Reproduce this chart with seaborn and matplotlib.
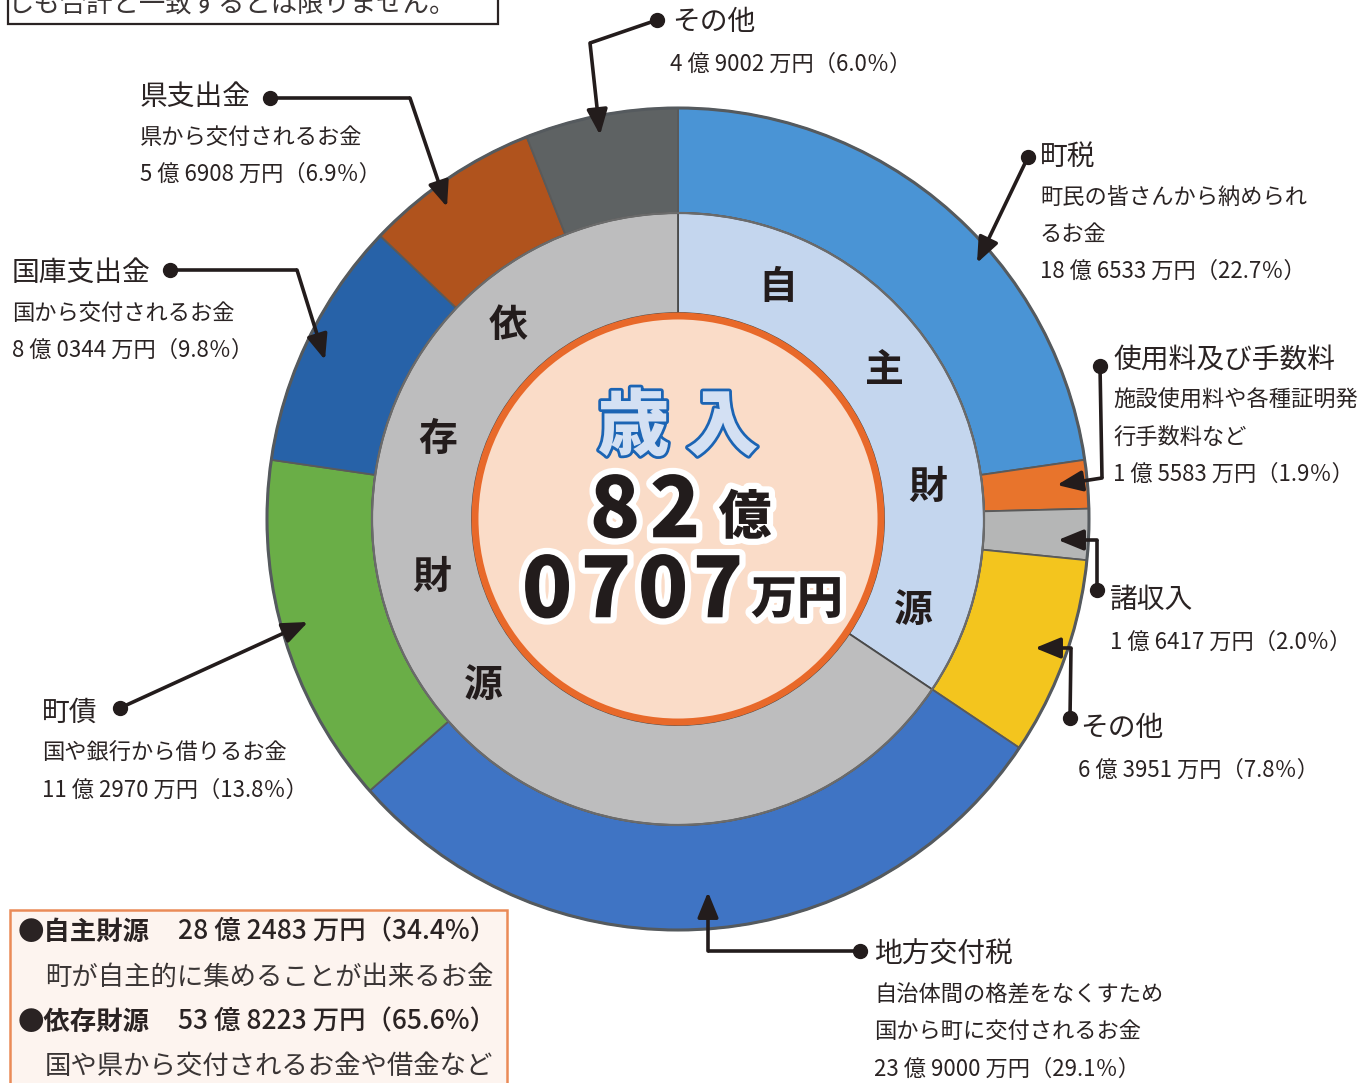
import matplotlib
matplotlib.use("Agg")
import matplotlib.pyplot as plt
import matplotlib.patheffects as pe
from matplotlib.patches import Circle, Rectangle
import seaborn as sns

# ---------------- data ----------------
outer_categories = ["町税", "使用料及び手数料", "諸収入", "その他",
                    "地方交付税", "町債", "国庫支出金", "県支出金", "その他"]
outer_values = [22.7, 1.9, 2.0, 7.8, 29.1, 13.8, 9.8, 6.9, 6.0]
outer_amounts = ["18 億 6533 万円（22.7％）", "1 億 5583 万円（1.9％）",
                 "1 億 6417 万円（2.0％）", "6 億 3951 万円（7.8％）",
                 "23 億 9000 万円（29.1％）", "11 億 2970 万円（13.8％）",
                 "8 億 0344 万円（9.8％）", "5 億 6908 万円（6.9％）",
                 "4 億 9002 万円（6.0％）"]
outer_descriptions = [["町民の皆さんから納められ", "るお金"],
                      ["施設使用料や各種証明発", "行手数料など"],
                      [], [],
                      ["自治体間の格差をなくすため", "国から町に交付されるお金"],
                      ["国や銀行から借りるお金"],
                      ["国から交付されるお金"],
                      ["県から交付されるお金"],
                      []]
outer_colors = ["#4a94d5", "#e8742c", "#b5b6b6", "#f3c51e",
                "#3f74c4", "#6aae47", "#2762a8", "#b0531d", "#5e6263"]

inner_categories = ["自主財源", "依存財源"]
inner_values = [34.4, 65.6]
inner_amounts = ["28 億 2483 万円（34.4%）", "53 億 8223 万円（65.6%）"]
inner_descriptions = ["町が自主的に集めることが出来るお金",
                      "国や県から交付されるお金や借金など"]
inner_colors = ["#c4d6ee", "#bdbdbe"]

total_title = "歳 入"
total_oku = "82"
total_man = "0707"
note_text = "しも合計と一致するとは限りません。"

# ---------------- style ----------------
sns.set_theme(style="white")
plt.rcParams["font.family"] = ["Noto Sans CJK JP", "DejaVu Sans"]

W, H = 1370, 1083
fig = plt.figure(figsize=(W / 100, H / 100), dpi=100)
ax = fig.add_axes([0, 0, 1, 1])

CX, CY = 678, 519
R_OUT, R_MID, R_IN = 411, 306, 206
TXT = "#2a2323"

# outer ring (clockwise from top; y axis is inverted later)
ax.pie(outer_values, colors=sns.color_palette(outer_colors), startangle=-90,
       counterclock=True, radius=R_OUT, center=(CX, CY),
       wedgeprops=dict(width=R_OUT - R_MID, edgecolor="#5a5a5a", linewidth=1.3))
# inner ring
ax.pie(inner_values, colors=sns.color_palette(inner_colors), startangle=-90,
       counterclock=True, radius=R_MID, center=(CX, CY),
       wedgeprops=dict(width=R_MID - R_IN, edgecolor="#4a4a4a", linewidth=1.3))
# outline rings
ax.add_patch(Circle((CX, CY), R_OUT, fill=False, ec="#555a5e", lw=2.2, zorder=3))
ax.add_patch(Circle((CX, CY), R_MID, fill=False, ec="#6b6b6b", lw=1.6, zorder=3))
# centre disc
ax.add_patch(Circle((CX, CY), R_IN - 3, fc="#fadcc8", ec="#e8692a", lw=5, zorder=4))

ax.set_xlim(0, W)
ax.set_ylim(H, 0)
ax.set_aspect("equal")
ax.axis("off")

# inner ring vertical labels
ring_chars = [("自", 778, 288), ("主", 884, 370), ("財", 928, 487), ("源", 913, 610),
              ("依", 508, 325), ("存", 438, 440), ("財", 432, 577), ("源", 483, 685)]
for ch, x, y in ring_chars:
    ax.text(x, y, ch, fontsize=28, fontweight="bold", color="#231c1c",
            ha="center", va="center", zorder=5)

# centre texts
ax.text(CX, 428, total_title, fontsize=52, fontweight="heavy", color="#d3e0f3",
        ha="center", va="center", zorder=6,
        path_effects=[pe.withStroke(linewidth=4, foreground="#1b64b4")])
white = [pe.withStroke(linewidth=9, foreground="white")]
for ch, x in zip(total_oku, [615, 675]):
    ax.text(x, 512, ch, fontsize=60, fontweight="heavy", color="#221c1c",
            ha="center", va="center", zorder=6, path_effects=white)
ax.text(745, 518, "億", fontsize=38, fontweight="heavy", color="#221c1c",
        ha="center", va="center", zorder=6, path_effects=white)
for ch, x in zip(total_man, [547, 606, 663, 718]):
    ax.text(x, 592, ch, fontsize=60, fontweight="heavy", color="#221c1c",
            ha="center", va="center", zorder=6, path_effects=white)
ax.text(797, 600, "万円", fontsize=33, fontweight="heavy", color="#221c1c",
        ha="center", va="center", zorder=6, path_effects=white)

# ---------------- callouts ----------------
label_pos = [
    (1040, 157), (1113, 360), (1110, 600), (1080, 728),
    (874, 955), (42, 713), (12, 273), (140, 97), (672, 22)]
amount_dx = [0, 0, 0, -2, 0, 0, 0, 0, -2]
for i, cat in enumerate(outer_categories):
    x, y = label_pos[i]
    ax.text(x, y, cat, fontsize=20, color=TXT, ha="left", va="center")
    yy = y + 40
    for d in outer_descriptions[i]:
        ax.text(x, yy, d, fontsize=16, color=TXT, ha="left", va="center")
        yy += 37
    if not outer_descriptions[i]:
        yy = y + 42
    ax.text(x + amount_dx[i], yy, outer_amounts[i], fontsize=16, color=TXT,
            ha="left", va="center")

leaders = [
    [(1028, 157), (977, 263)],
    [(1100, 366), (1102, 478), (1057, 485)],
    [(1097, 590), (1097, 540), (1058, 540)],
    [(1070, 718), (1071, 648), (1035, 648)],
    [(860, 951), (708, 951), (708, 892)],
    [(120, 708), (308, 622)],
    [(170, 270), (297, 270), (325, 360)],
    [(270, 98), (410, 98), (447, 207)],
    [(657, 20), (590, 43), (600, 135)],
]
for pts in leaders:
    xs = [p[0] for p in pts]
    ys = [p[1] for p in pts]
    ax.plot(xs[:-1], ys[:-1], color="#231c1c", lw=2.6, zorder=7,
            solid_capstyle="butt")
    ax.plot([xs[0]], [ys[0]], "o", color="#231c1c", ms=10, zorder=8)
    ax.annotate("", xy=pts[-1], xytext=pts[-2],
                arrowprops=dict(arrowstyle="-|>,head_length=1.1,head_width=0.45",
                                color="#231c1c", lw=2.6, shrinkA=0, shrinkB=0,
                                mutation_scale=14), zorder=8)

# ---------------- boxes ----------------
ax.add_patch(Rectangle((8, -20), 490, 44, fill=False, ec="#2a2323", lw=1.6, zorder=2))
ax.text(8, 4, note_text, fontsize=19, color="#3a3535", ha="left", va="center")

ax.add_patch(Rectangle((10, 910), 497, 200, fc="#fdf4ef", ec="#ea8a57", lw=1.8, zorder=2))
box_y = [932, 1022]
for i in range(2):
    ax.text(18, box_y[i], "●" + inner_categories[i], fontsize=19, fontweight="bold",
            color=TXT, ha="left", va="center", zorder=3)
    ax.text(178, box_y[i], inner_amounts[i], fontsize=19, fontweight="medium",
            color=TXT, ha="left", va="center", zorder=3)
    ax.text(45, box_y[i] + 45, inner_descriptions[i], fontsize=19, color="#3a3535",
            ha="left", va="center", zorder=3)

fig.savefig("out.png", dpi=100)
